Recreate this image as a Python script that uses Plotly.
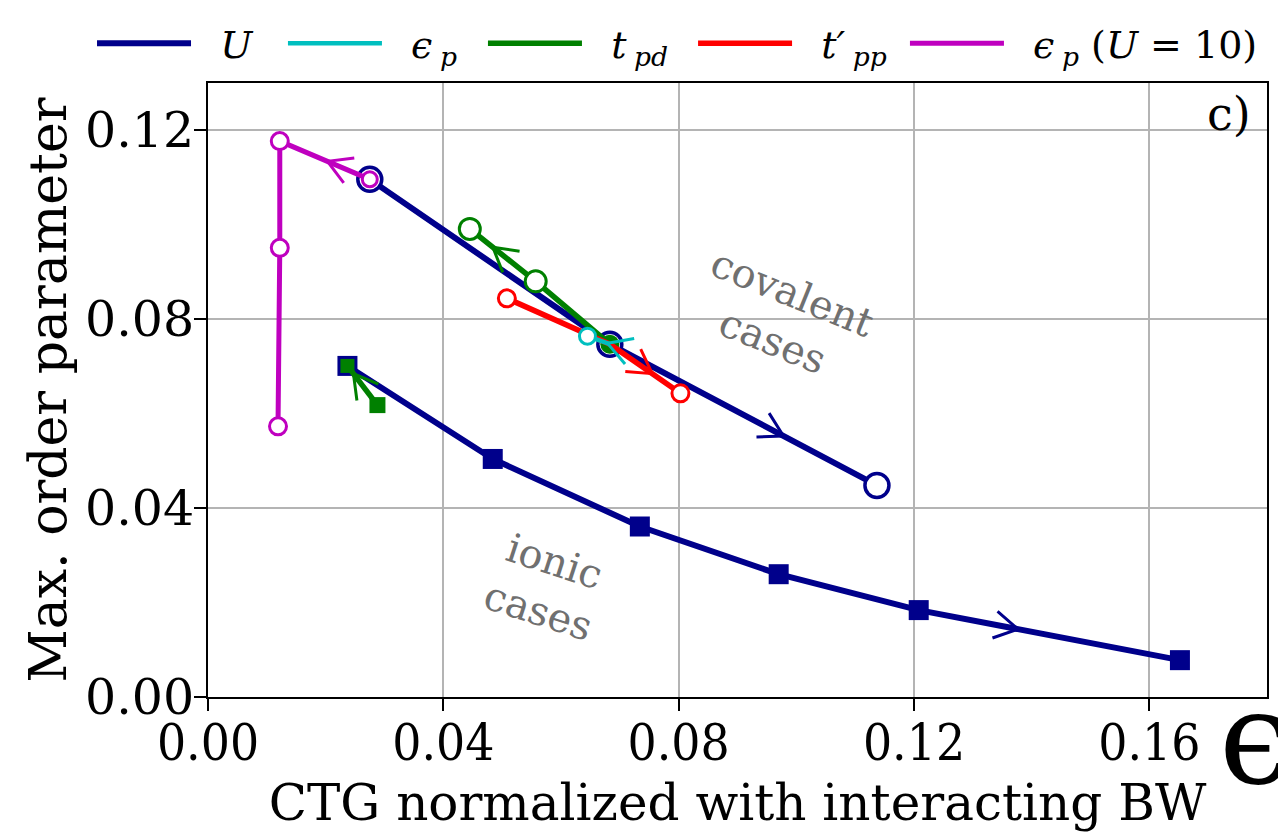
import math
import plotly.graph_objects as go

# ---------------- data ----------------
u_cov_x = [0.0275, 0.0683, 0.1137]
u_cov_y = [0.1096, 0.0747, 0.0448]
u_ion_x = [0.0237, 0.0484, 0.0734, 0.0970, 0.1208, 0.1652]
u_ion_y = [0.0701, 0.0504, 0.0361, 0.0260, 0.0184, 0.0078]
ep_x = [0.0683, 0.0645]
ep_y = [0.0747, 0.0764]
tpd_cov_x = [0.0683, 0.0557, 0.0445]
tpd_cov_y = [0.0747, 0.0880, 0.0991]
tpd_ion_x = [0.0288, 0.0237]
tpd_ion_y = [0.0618, 0.0701]
tpp_x = [0.0508, 0.0683, 0.0803]
tpp_y = [0.0844, 0.0747, 0.0643]
ep10_x = [0.0275, 0.0122, 0.0122, 0.0119]
ep10_y = [0.1096, 0.1177, 0.0951, 0.0573]

x_ticks = [0.00, 0.04, 0.08, 0.12, 0.16]
y_ticks = [0.00, 0.04, 0.08, 0.12]
x_ticktext = ["0.00", "0.04", "0.08", "0.12", "0.16"]
y_ticktext = ["0.00", "0.04", "0.08", "0.12"]

# ---------------- layout constants ----------------
W, H = 1278, 839
ML, MR, MT, MB = 208, 11, 83, 142
X_RANGE = [0.0, 0.18]
Y_RANGE = [0.0, 0.13]
PX_X = (W - ML - MR) / (X_RANGE[1] - X_RANGE[0])
PX_Y = (H - MT - MB) / (Y_RANGE[1] - Y_RANGE[0])

NAVY = "#00008b"
CYAN = "#00bfbf"
GREEN = "#008000"
RED = "#ff0000"
MAG = "#bf00bf"
SERIF = "DejaVu Serif"
NB = "\u00a0"
TH = "\u2009"

# legend entry left positions (fraction of the page width)
LEGEND_X = {"legend": 0.0720, "legend2": 0.2214, "legend3": 0.3779,
            "legend4": 0.5423, "legend5": 0.7081}


def chevron(xs, ys, seg, frac, length=27, half_angle=30):
    """Open arrowhead along segment `seg`, tip at fraction `frac`."""
    x0, y0, x1, y1 = xs[seg], ys[seg], xs[seg + 1], ys[seg + 1]
    tx, ty = x0 + frac * (x1 - x0), y0 + frac * (y1 - y0)
    dx, dy = (x1 - x0) * PX_X, (y1 - y0) * PX_Y
    n = math.hypot(dx, dy)
    ux, uy = dx / n, dy / n
    ax, ay = [], []
    for s in (1, -1):
        a = math.radians(180 + s * half_angle)
        rx = ux * math.cos(a) - uy * math.sin(a)
        ry = ux * math.sin(a) + uy * math.cos(a)
        ax.append(tx + rx * length / PX_X)
        ay.append(ty + ry * length / PX_Y)
    return [ax[0], tx, ax[1]], [ay[0], ty, ay[1]]


fig = go.Figure()


def add_line(xs, ys, color, width, name, group, showlegend, legend):
    fig.add_trace(go.Scatter(x=xs, y=ys, mode="lines", name=name,
                             legendgroup=group, showlegend=showlegend,
                             legend=legend,
                             line=dict(color=color, width=width),
                             hoverinfo="skip"))


def add_markers(xs, ys, symbol, size, fill, lcolor, lwidth, opacity=1):
    fig.add_trace(go.Scatter(x=xs, y=ys, mode="markers", showlegend=False,
                             marker=dict(symbol=symbol, size=size, color=fill,
                                         opacity=opacity,
                                         line=dict(color=lcolor, width=lwidth)),
                             hoverinfo="skip"))


def add_arrow(xs, ys, seg, frac, color, width=3):
    ax, ay = chevron(xs, ys, seg, frac)
    fig.add_trace(go.Scatter(x=ax, y=ay, mode="lines", showlegend=False,
                             line=dict(color=color, width=width),
                             hoverinfo="skip"))


def lbl(s):
    return NB * 2 + s


U_LBL = lbl("<i>U</i>")
EP_LBL = lbl("<i>ϵ</i>" + TH + "<sub><i>p</i></sub>")
TPD_LBL = lbl("<i>t</i>" + TH + "<sub><i>pd</i></sub>")
TPP_LBL = lbl("<i>t′</i>" + TH + "<sub><i>pp</i></sub>")
EP10_LBL = lbl("<i>ϵ</i>" + TH + "<sub><i>p</i></sub> (<i>U</i> = 10)")

# U, covalent
add_line(u_cov_x, u_cov_y, NAVY, 6, U_LBL, "U", True, "legend")
add_markers(u_cov_x, u_cov_y, "circle", 24, "white", NAVY, 3.5)
add_arrow(u_cov_x, u_cov_y, 1, 0.65, NAVY)
# U, ionic
add_line(u_ion_x, u_ion_y, NAVY, 6, U_LBL, "U", False, "legend")
add_markers(u_ion_x, u_ion_y, "square", 20, NAVY, NAVY, 0)
add_arrow(u_ion_x, u_ion_y, 4, 0.38, NAVY)
# t_pd covalent
add_line(tpd_cov_x, tpd_cov_y, GREEN, 5.5, TPD_LBL, "tpd", True, "legend3")
add_markers(tpd_cov_x, tpd_cov_y, "circle", [19, 21, 21],
            [GREEN, "white", "white"], GREEN, [0, 3, 3])
add_arrow(tpd_cov_x, tpd_cov_y, 1, 0.65, GREEN)
# t_pd ionic
add_line(tpd_ion_x, tpd_ion_y, GREEN, 5.5, TPD_LBL, "tpd", False, "legend3")
add_markers(tpd_ion_x, tpd_ion_y, "square", [16, 14], GREEN, GREEN, 0)
add_arrow(tpd_ion_x, tpd_ion_y, 0, 0.8, GREEN)
# t'_pp
add_line(tpp_x, tpp_y, RED, 5.5, TPP_LBL, "tpp", True, "legend4")
add_markers(tpp_x, tpp_y, "circle", 17, "white", RED, 3, [1, 0, 1])
add_arrow(tpp_x, tpp_y, 1, 0.6, RED)
# eps_p
add_line(ep_x, ep_y, CYAN, 4.5, EP_LBL, "ep", True, "legend2")
add_markers(ep_x, ep_y, "circle", 16, "white", CYAN, 3, [0, 1])
add_arrow(ep_x, ep_y, 0, 0.1, CYAN)
# eps_p (U=10)
add_line(ep10_x, ep10_y, MAG, 5, EP10_LBL, "ep10", True, "legend5")
add_markers(ep10_x, ep10_y, "circle", [15, 17, 17, 17], "white", MAG, 3)
add_arrow(ep10_x, ep10_y, 0, 0.47, MAG)

axis_common = dict(showline=True, linecolor="black", linewidth=2, mirror=True,
                   ticks="outside", ticklen=12, tickwidth=2, tickcolor="black",
                   showgrid=True, gridcolor="#b4b4b4", gridwidth=2,
                   zeroline=False, automargin=False)

legend_common = dict(orientation="h", xref="container", yref="container",
                     xanchor="left", y=0.948, yanchor="middle",
                     font=dict(family=SERIF, size=38, color="black"),
                     itemwidth=94, bgcolor="rgba(0,0,0,0)", tracegroupgap=0)
legends = {k: dict(x=v, **legend_common) for k, v in LEGEND_X.items()}

fig.update_layout(
    width=W, height=H, autosize=False,
    margin=dict(l=ML, r=MR, t=MT, b=MB, autoexpand=False),
    paper_bgcolor="white", plot_bgcolor="white",
    xaxis=dict(range=X_RANGE, tickvals=x_ticks, ticktext=x_ticktext,
               tickfont=dict(family="DejaVu Serif Condensed, Liberation Serif",
                             size=51, color="black"),
               ticklabelstandoff=-12,
               title=dict(text="CTG normalized with interacting BW",
                          font=dict(family=SERIF, size=50, color="black"),
                          standoff=14),
               **axis_common),
    yaxis=dict(range=Y_RANGE, tickvals=y_ticks, ticktext=y_ticktext,
               tickfont=dict(family=SERIF, size=49, color="black"),
               ticklabelstandoff=-10,
               title=dict(text="Max. order parameter",
                          font=dict(family=SERIF, size=52, color="black"),
                          standoff=2),
               **axis_common),
    **legends,
    annotations=[
        dict(text="c)", xref="paper", yref="paper", x=0.987, y=0.997,
             xanchor="right", yanchor="top", showarrow=False,
             font=dict(family=SERIF, size=46, color="black")),
        dict(text="covalent<br>cases", x=0.0977, y=0.0805, xref="x", yref="y",
             showarrow=False, textangle=22, align="center",
             font=dict(family=SERIF, size=40, color="#707070")),
        dict(text="ionic<br>cases", x=0.0575, y=0.0235, xref="x", yref="y",
             showarrow=False, textangle=18, align="center",
             font=dict(family=SERIF, size=40, color="#707070")),
        dict(text="ϵ", xref="paper", yref="paper", x=0.953, y=-0.066,
             xanchor="left", yanchor="middle", showarrow=False,
             font=dict(family=SERIF, size=130, color="black")),
    ],
)

fig.write_html("out.html",
               config={"displayModeBar": False},
               post_script="document.body.style.margin='0px';"
                           "document.body.style.overflow='hidden';")
